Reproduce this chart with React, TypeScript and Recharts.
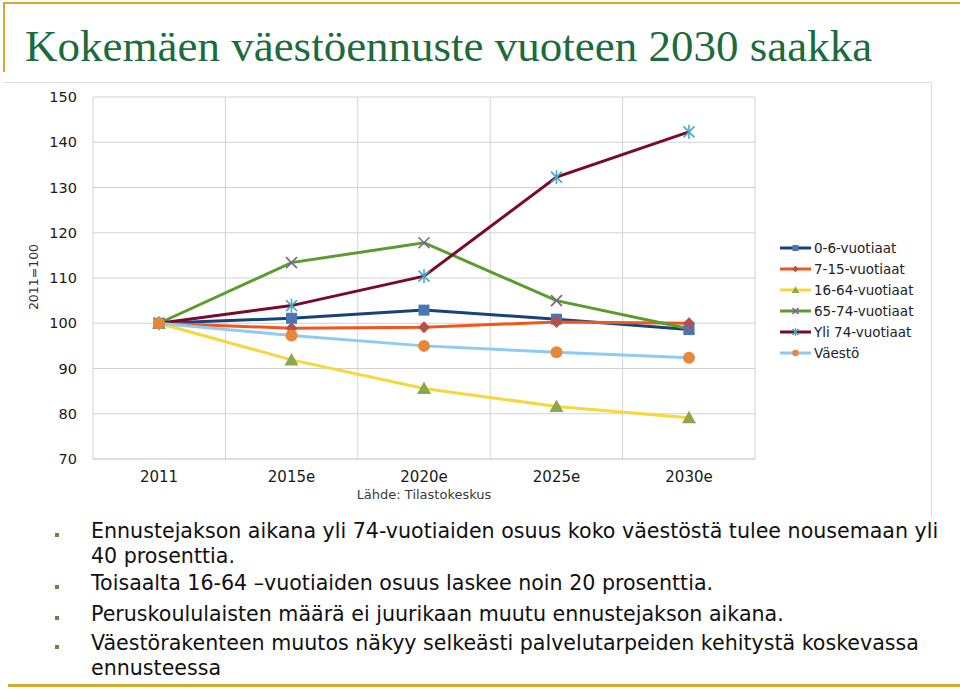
import React from 'react';
import { LineChart, Line, XAxis, YAxis, CartesianGrid, Legend } from 'recharts';

// ---- data ----
const years = ['2011', '2015e', '2020e', '2025e', '2030e'];
const age0to6 = [100, 101.1, 102.9, 100.9, 98.6];
const age7to15 = [100, 98.9, 99.1, 100.3, 100.0];
const age16to64 = [100, 91.9, 85.6, 81.6, 79.1];
const age65to74 = [100, 113.4, 117.8, 105.0, 98.8];
const over74 = [100, 103.9, 110.4, 132.3, 142.3];
const population = [100, 97.3, 95.0, 93.6, 92.4];
const yTicks = [70, 80, 90, 100, 110, 120, 130, 140, 150];
const seriesNames = ['0-6-vuotiaat', '7-15-vuotiaat', '16-64-vuotiaat', '65-74-vuotiaat', 'Yli 74-vuotiaat', 'Väestö'];
const bullets = [
  ['Ennustejakson aikana yli 74-vuotiaiden osuus koko väestöstä tulee nousemaan yli', '40 prosenttia.'],
  ['Toisaalta 16-64 –vuotiaiden osuus laskee noin 20 prosenttia.'],
  ['Peruskoululaisten määrä ei juurikaan muutu ennustejakson aikana.'],
  ['Väestörakenteen muutos näkyy selkeästi palvelutarpeiden kehitystä koskevassa', 'ennusteessa'],
];

const data = years.map((y, i) => ({
  year: y,
  a: age0to6[i],
  b: age7to15[i],
  c: age16to64[i],
  d: age65to74[i],
  e: over74[i],
  f: population[i],
}));

type Shape = 'square' | 'diamond' | 'triangle' | 'x' | 'star' | 'circle';

const Marker = ({ shape, cx, cy, color, scale = 1 }: { shape: Shape; cx: number; cy: number; color: string; scale?: number }) => {
  const s = scale;
  switch (shape) {
    case 'square':
      return <rect x={cx - 5.5 * s} y={cy - 5.5 * s} width={11 * s} height={11 * s} fill={color} />;
    case 'diamond':
      return <polygon points={`${cx},${cy - 6 * s} ${cx + 6 * s},${cy} ${cx},${cy + 6 * s} ${cx - 6 * s},${cy}`} fill={color} />;
    case 'triangle':
      return <polygon points={`${cx},${cy - 7 * s} ${cx + 7 * s},${cy + 5.5 * s} ${cx - 7 * s},${cy + 5.5 * s}`} fill={color} />;
    case 'x':
      return (
        <g stroke={color} strokeWidth={1.6}>
          <line x1={cx - 5.5 * s} y1={cy - 5.5 * s} x2={cx + 5.5 * s} y2={cy + 5.5 * s} />
          <line x1={cx - 5.5 * s} y1={cy + 5.5 * s} x2={cx + 5.5 * s} y2={cy - 5.5 * s} />
        </g>
      );
    case 'star':
      return (
        <g stroke={color} strokeWidth={1.6}>
          <line x1={cx - 5.5 * s} y1={cy - 5.5 * s} x2={cx + 5.5 * s} y2={cy + 5.5 * s} />
          <line x1={cx - 5.5 * s} y1={cy + 5.5 * s} x2={cx + 5.5 * s} y2={cy - 5.5 * s} />
          <line x1={cx} y1={cy - 7 * s} x2={cx} y2={cy + 7 * s} />
        </g>
      );
    default:
      return <circle cx={cx} cy={cy} r={6 * s} fill={color} />;
  }
};

const series: { key: string; line: string; marker: string; shape: Shape }[] = [
  { key: 'a', line: '#17427A', marker: '#4A78B4', shape: 'square' },
  { key: 'b', line: '#F2561D', marker: '#B8504A', shape: 'diamond' },
  { key: 'c', line: '#F8D73A', marker: '#8CA84E', shape: 'triangle' },
  { key: 'd', line: '#5C9B2C', marker: '#7A6496', shape: 'x' },
  { key: 'e', line: '#7A0A2C', marker: '#47A9C4', shape: 'star' },
  { key: 'f', line: '#8DCBF4', marker: '#E8873A', shape: 'circle' },
];

const LegendBox = () => (
  <div style={{ fontFamily: '"DejaVu Sans", Verdana, sans-serif', fontSize: 13.5, color: '#222' }}>
    {series.map((s, i) => (
      <div key={s.key} style={{ display: 'flex', alignItems: 'center', height: 21 }}>
        <svg width={31} height={14} style={{ marginRight: 3 }}>
          <line x1={0} y1={7} x2={31} y2={7} stroke={s.line} strokeWidth={3} />
          <Marker shape={s.shape} cx={15.5} cy={7} color={s.marker} scale={0.55} />
        </svg>
        <span>{seriesNames[i]}</span>
      </div>
    ))}
  </div>
);

export default function App() {
  const gold = '#D4AA2E';
  return (
    <div style={{ position: 'absolute', left: 0, top: 0, width: 960, height: 689, background: '#fff', overflow: 'hidden' }}>
      {/* decorative slide lines */}
      <div style={{ position: 'absolute', left: 3, top: 2, width: 957, height: 2, background: gold }} />
      <div style={{ position: 'absolute', left: 3, top: 2, width: 2, height: 70, background: gold }} />
      <div style={{ position: 'absolute', left: 8, top: 684, width: 952, height: 3, background: gold }} />
      <div style={{ position: 'absolute', left: 3, top: 82, width: 929, height: 1, background: '#dedede' }} />
      <div style={{ position: 'absolute', left: 931, top: 82, width: 1, height: 436, background: '#dedede' }} />

      <div
        style={{
          position: 'absolute',
          left: 25,
          top: 18,
          fontFamily: '"Liberation Serif", "DejaVu Serif", serif',
          fontSize: 45,
          lineHeight: '56px',
          color: '#1C6B3C',
          whiteSpace: 'nowrap',
        }}
      >
        Kokemäen väestöennuste vuoteen 2030 saakka
      </div>

      <div
        style={{
          position: 'absolute',
          left: 33,
          top: 277,
          transform: 'translate(-50%, -50%) rotate(-90deg)',
          fontFamily: '"DejaVu Sans", Verdana, sans-serif',
          fontSize: 12.5,
          color: '#333',
          whiteSpace: 'nowrap',
        }}
      >
        2011=100
      </div>

      <div style={{ position: 'absolute', left: 0, top: 80 }}>
        <LineChart width={940} height={440} data={data} margin={{ top: 17, right: 185, left: 43, bottom: 21 }}>
          <CartesianGrid
            stroke="#d2d2d2"
            verticalCoordinatesGenerator={({ offset }: any) =>
              [0, 1, 2, 3, 4, 5].map((i) => offset.left + (i * offset.width) / 5)
            }
          />
          <XAxis
            dataKey="year"
            height={40}
            padding={{ left: 66, right: 66 }}
            tickLine={false}
            axisLine={{ stroke: '#d2d2d2' }}
            tickMargin={6}
            tick={{ fontFamily: '"DejaVu Sans", Verdana, sans-serif', fontSize: 15, fill: '#1a1a1a' }}
            label={{
              value: 'Lähde: Tilastokeskus',
              position: 'insideBottom',
              offset: 0,
              style: { fontFamily: '"DejaVu Sans", Verdana, sans-serif', fontSize: 13, fill: '#3a3a3a' },
            }}
          />
          <YAxis
            width={50}
            domain={[70, 150]}
            ticks={yTicks}
            interval={0}
            tickLine={false}
            axisLine={false}
            tickMargin={10}
            tick={{ fontFamily: '"DejaVu Sans", Verdana, sans-serif', fontSize: 14.5, fill: '#1a1a1a' }}
          />
          <Legend
            layout="vertical"
            align="center"
            verticalAlign="middle"
            wrapperStyle={{ left: 780, top: 157, width: 160 }}
            content={() => <LegendBox />}
          />
          {series.map((s, i) => (
            <Line
              key={s.key}
              dataKey={s.key}
              name={seriesNames[i]}
              stroke={s.line}
              strokeWidth={3}
              isAnimationActive={false}
              dot={(p: any) => <Marker key={`${s.key}-${p.index}`} shape={s.shape} cx={p.cx} cy={p.cy} color={s.marker} />}
              activeDot={false}
            />
          ))}
        </LineChart>
      </div>

      {/* bullet text */}
      {[518.5, 570.5, 601.5, 630.5].map((top, i) => (
        <React.Fragment key={i}>
          <div style={{ position: 'absolute', left: 55, top: top + 14, width: 4, height: 4, background: '#5E8A3A' }} />
          <div
            style={{
              position: 'absolute',
              left: 91,
              top,
              fontFamily: '"DejaVu Sans", Verdana, sans-serif',
              fontSize: 20.6,
              lineHeight: '25px',
              color: '#111',
              whiteSpace: 'nowrap',
            }}
          >
            {bullets[i].map((l, j) => (
              <div key={j}>{l}</div>
            ))}
          </div>
        </React.Fragment>
      ))}
    </div>
  );
}
